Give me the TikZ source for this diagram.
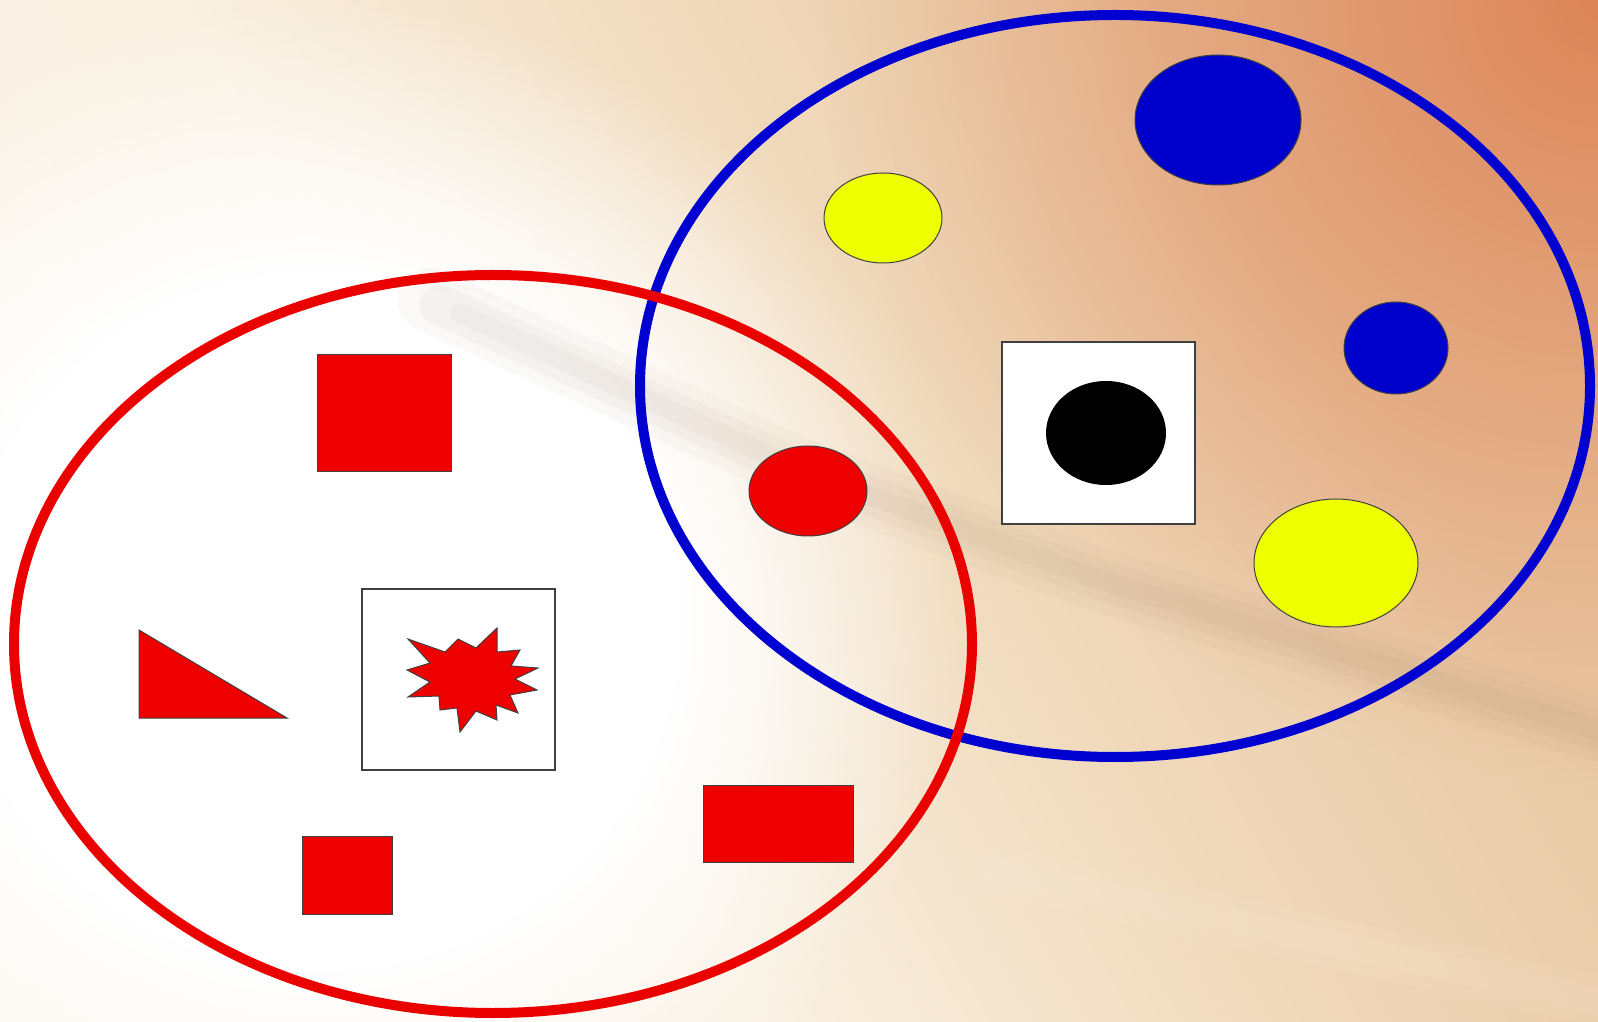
\documentclass[tikz,border=0pt]{standalone}
\usepackage{tikz}
\usetikzlibrary{fadings}
\pgfdeclarehorizontalshading{bgShade}{100bp}{color(0bp)=(rgb,255:red,254;green,251;blue,246); color(42bp)=(rgb,255:red,250;green,241;blue,226); color(54bp)=(rgb,255:red,240;green,218;blue,188); color(66bp)=(rgb,255:red,233;green,201;blue,165); color(100bp)=(rgb,255:red,232;green,196;blue,158)}
\pgfdeclareradialshading{whiteMask}{\pgfpoint{0bp}{0bp}}{color(0bp)=(white); color(14bp)=(white); color(25bp)=(black); color(50bp)=(black)}
\pgfdeclarefading{whiteFade}{\pgfuseshading{whiteMask}}
\tikzfading[name=glowFade, inner color=transparent!10, outer color=transparent!100]
\begin{document}
\begin{tikzpicture}[x=1pt,y=1pt]
\definecolor{fillColor}{RGB}{255,255,255}
\path[use as bounding box,fill=fillColor] (0,0) rectangle (1598,1021);
% background
\begin{scope}
\path[clip] (0,0) rectangle (1598,1021);
\shade[shading=bgShade,shading angle=30] (-101,-390) rectangle (1699,1410);
\definecolor{fillColor}{RGB}{255,255,255}
\fill[fillColor,path fading=whiteFade,fit fading=true] (320,400) ellipse (640 and 620);
\definecolor{fillColor}{RGB}{220,126,80}
\fill[fillColor,path fading=glowFade,fit fading=true] (1598,1021) circle (780);
\definecolor{drawColor}{RGB}{150,120,95}
\path[draw=drawColor,line width=64pt,opacity=0.04,line cap=round,line join=round] (430,721) -- (800,551) -- (1100,441) -- (1598,291);
\path[draw=drawColor,line width=40pt,opacity=0.05,line cap=round,line join=round] (440,716) -- (800,551) -- (1100,441) -- (1598,291);
\path[draw=drawColor,line width=20pt,opacity=0.05,line cap=round,line join=round] (460,708) -- (800,551) -- (1100,441) -- (1598,291);
\definecolor{drawColor}{RGB}{255,248,238}
\path[draw=drawColor,line width=50pt,opacity=0.06,line cap=round] (1000,150) -- (1598,20);
\path[draw=drawColor,line width=26pt,opacity=0.07,line cap=round] (1000,150) -- (1598,20);
\end{scope}
% sets
\definecolor{drawColor}{RGB}{0,0,208}
\path[draw=drawColor,line width=10pt] (1115,635) ellipse (475 and 371);
\definecolor{drawColor}{RGB}{235,0,0}
\path[draw=drawColor,line width=10pt] (493,377) ellipse (479 and 369);
% red set members
\definecolor{drawColor}{gray}{0.25}
\definecolor{fillColor}{RGB}{238,0,0}
\path[draw=drawColor,line width=1pt,fill=fillColor] (317,549) rectangle (451,666);
\path[draw=drawColor,line width=1pt,fill=fillColor] (139,391) -- (139,303) -- (287,303) -- cycle;
\path[draw=drawColor,line width=1pt,fill=fillColor] (302,107) rectangle (392,185);
\path[draw=drawColor,line width=1pt,fill=fillColor] (703,159) rectangle (853,236);
\definecolor{fillColor}{RGB}{255,255,255}
\path[draw=drawColor,line width=1.5pt,fill=fillColor] (362,251) rectangle (555,432);
\definecolor{fillColor}{RGB}{238,0,0}
\path[draw=drawColor,line width=1pt,line join=miter,fill=fillColor] (408,382) -- (445,369) --
	(458,382) -- (476,373) --
	(497,393) -- (497,369) --
	(520,371) -- (511,355) --
	(538,353) -- (515,342) --
	(537,331) -- (510,326) --
	(518,308) -- (496,316) --
	(497,301) -- (476,310) --
	(460,289) -- (457,313) --
	(440,311) -- (439,325) --
	(408,324) -- (430,339) --
	(407,351) -- (430,358) --
	cycle;
% shared member
\path[draw=drawColor,line width=1pt,fill=fillColor] (808,530) ellipse (59 and 45);
% blue set members
\definecolor{fillColor}{RGB}{238,255,0}
\path[draw=drawColor,line width=1pt,fill=fillColor] (883,803) ellipse (59 and 45);
\path[draw=drawColor,line width=1pt,fill=fillColor] (1336,458) ellipse (82 and 64);
\definecolor{fillColor}{RGB}{0,0,205}
\path[draw=drawColor,line width=1pt,fill=fillColor] (1218,901) ellipse (83 and 65);
\path[draw=drawColor,line width=1pt,fill=fillColor] (1396,673) ellipse (52 and 46);
\definecolor{fillColor}{RGB}{255,255,255}
\path[draw=drawColor,line width=1.5pt,fill=fillColor] (1002,497) rectangle (1195,679);
\definecolor{fillColor}{RGB}{0,0,0}
\path[fill=fillColor] (1106,588) ellipse (60 and 52);
\end{tikzpicture}
\end{document}
